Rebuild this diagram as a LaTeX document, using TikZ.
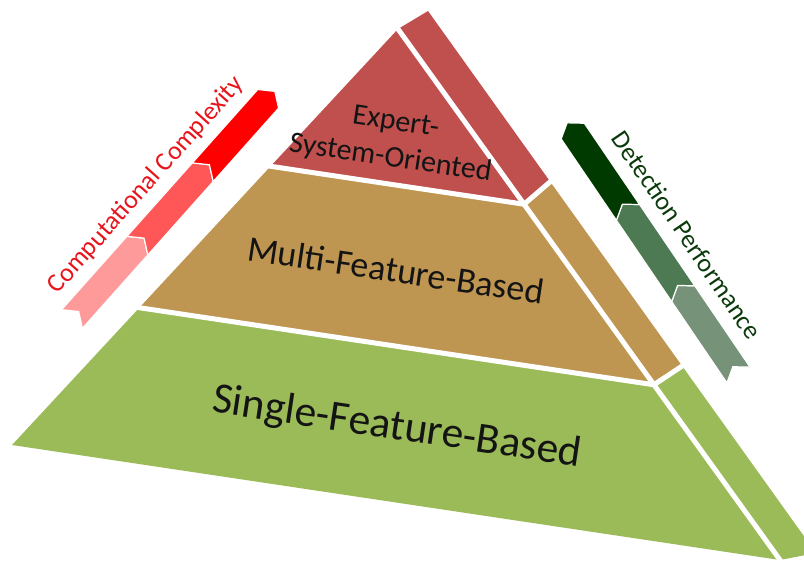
\documentclass[tikz,border=0pt]{standalone}
\usepackage{fontspec}
\setmainfont{Carlito}
\usetikzlibrary{calc}
% tier colours
\definecolor{tierred}{HTML}{C0504D}
\definecolor{tiertan}{HTML}{BE9651}
\definecolor{tiergreen}{HTML}{9BBB59}
% complexity arrow (red) and performance arrow (green)
\definecolor{cxdark}{HTML}{FF0000}
\definecolor{cxmid}{HTML}{FF5757}
\definecolor{cxlight}{HTML}{FF9A9A}
\definecolor{dpdark}{HTML}{003A00}
\definecolor{dpmid}{HTML}{4D7A52}
\definecolor{dplight}{HTML}{76937A}
\definecolor{cxtext}{HTML}{E8141B}
\definecolor{dptext}{HTML}{0A3A0A}
% one chevron segment: start offset along the axis, fill colour
\newcommand\chevseg[2]{%
  \filldraw[fill=#2,chevedge] (#1,-14) -- ++(98.3,0) -- ++(10,14) -- ++(-10,14)
    -- ++(-98.3,0) -- ++(10,-14) -- cycle;}
\begin{document}
\begin{tikzpicture}[x=1pt,y=-1pt,
  gapline/.style={white, line width=5pt, line join=miter},
  chevedge/.style={draw=white, line width=1.2pt, line join=miter},
  tierlabel/.style={text=black!92, align=center, rotate=-8.5, inner sep=0pt},
  arrowlabel/.style={inner sep=0pt, font=\fontsize{26}{31}\selectfont},
]
\useasboundingbox (0,0) rectangle (804,563);

% front face corners and tier divisions
\coordinate (A)  at (398,29);
\coordinate (BL) at (12,445);
\coordinate (BR) at (780,560);
\coordinate (L1) at ($(A)!0.33!(BL)$);
\coordinate (L2) at ($(A)!0.67!(BL)$);
\coordinate (R1) at ($(A)!0.33!(BR)$);
\coordinate (R2) at ($(A)!0.67!(BR)$);
% side face outer edge
\coordinate (O1) at (428,11);
\coordinate (O2) at (816,553);
\coordinate (S1) at ($(O1)!0.315!(O2)$);
\coordinate (S2) at ($(O1)!0.655!(O2)$);

% front face tiers
\fill[tierred]   (A) -- (L1) -- (R1) -- cycle;
\fill[tiertan]   (L1) -- (L2) -- (R2) -- (R1) -- cycle;
\fill[tiergreen] (L2) -- (BL) -- (BR) -- (R2) -- cycle;
% side face tiers
\fill[tierred]   (A) -- (O1) -- (S1) -- (R1) -- cycle;
\fill[tiertan]   (R1) -- (S1) -- (S2) -- (R2) -- cycle;
\fill[tiergreen] (R2) -- (S2) -- (O2) -- (BR) -- cycle;

% white gaps between the blocks
\draw[gapline] ($(L1)!-0.05!(R1)$) -- (R1) -- ($(R1)!1.1!(S1)$);
\draw[gapline] ($(L2)!-0.05!(R2)$) -- (R2) -- ($(R2)!1.1!(S2)$);
\draw[gapline] ($(A)!-0.04!(BR)$) -- ($(A)!1.05!(BR)$);

% tier labels
\node[tierlabel, font=\fontsize{30}{36.6}\selectfont] (expert) at (393,141)
  {Expert-\\System-Oriented};
\node[tierlabel, font=\fontsize{36}{44}\selectfont] (multi) at (396,270)
  {Multi-Feature-Based};
\node[tierlabel, font=\fontsize{43.5}{53}\selectfont] (single) at (397,428)
  {Single-Feature-Based};

% computational complexity arrow
\begin{scope}[shift={(72,319)}, rotate=48.3]
  \chevseg{0}{cxlight}
  \chevseg{98.3}{cxmid}
  \chevseg{196.6}{cxdark}
\end{scope}
\node[arrowlabel, text=cxtext, rotate=48.3] (cxlabel) at (146,185)
  {Computational Complexity};

% detection performance arrow
\begin{scope}[shift={(738.5,375)}, rotate=124.2]
  \chevseg{0}{dplight}
  \chevseg{98.3}{dpmid}
  \chevseg{196.6}{dpdark}
\end{scope}
\node[arrowlabel, text=dptext, rotate=-55.8] (dplabel) at (687,235)
  {Detection Performance};
\end{tikzpicture}
\end{document}
